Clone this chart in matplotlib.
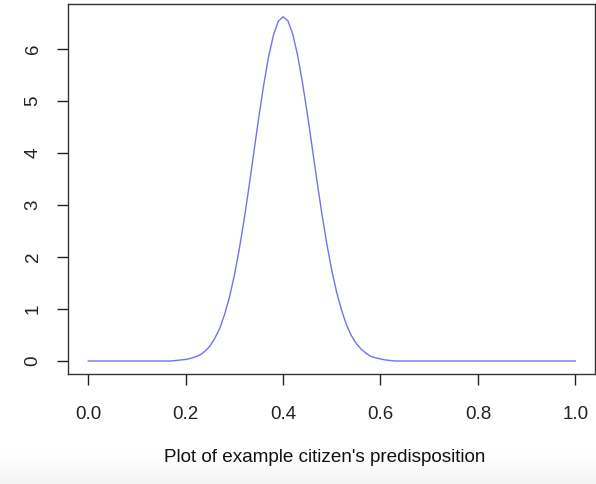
import numpy as np
import matplotlib.pyplot as plt

plt.rcParams['font.family'] = ['Liberation Sans', 'DejaVu Sans']

# predisposition grid and density
x_vals = [round(i * 0.01, 2) for i in range(101)]
density = [
    0.00, 0.00, 0.00, 0.00, 0.00, 0.00, 0.00, 0.00, 0.00, 0.00,
    0.00, 0.00, 0.00, 0.00, 0.00, 0.00, 0.00, 0.00, 0.01, 0.02,
    0.03, 0.05, 0.08, 0.12, 0.19, 0.29, 0.44, 0.63, 0.90, 1.23,
    1.65, 2.15, 2.72, 3.35, 4.02, 4.68, 5.30, 5.84, 6.26, 6.53,
    6.62, 6.54, 6.28, 5.87, 5.34, 4.74, 4.09, 3.43, 2.81, 2.24,
    1.74, 1.32, 0.98, 0.70, 0.49, 0.34, 0.23, 0.15, 0.09, 0.06,
    0.04, 0.02, 0.01, 0.00, 0.00, 0.00, 0.00, 0.00, 0.00, 0.00,
    0.00, 0.00, 0.00, 0.00, 0.00, 0.00, 0.00, 0.00, 0.00, 0.00,
    0.00, 0.00, 0.00, 0.00, 0.00, 0.00, 0.00, 0.00, 0.00, 0.00,
    0.00, 0.00, 0.00, 0.00, 0.00, 0.00, 0.00, 0.00, 0.00, 0.00,
    0.00,
]
x_ticks = [0.0, 0.2, 0.4, 0.6, 0.8, 1.0]
x_ticklabels = ['0.0', '0.2', '0.4', '0.6', '0.8', '1.0']
y_ticks = [0, 1, 2, 3, 4, 5, 6]

fig = plt.figure(figsize=(5.96, 4.84), dpi=100)

# faint grey shading at the bottom of the screenshot
bg = fig.add_axes([0, 0, 1, 1], zorder=-1)
grad = np.ones((484, 1))
grad[450:, 0] = np.linspace(1.0, 0.955, 34)
bg.imshow(grad, cmap='gray', vmin=0, vmax=1, aspect='auto',
          extent=[0, 1, 0, 1], origin='upper')
bg.axis('off')

ax = fig.add_axes([68 / 596, 1 - 374 / 484, 527 / 596, 370 / 484])
ax.patch.set_alpha(0)
ax.plot(x_vals, density, color='#7272ee', linewidth=1.0)

ax.set_xlim(-0.0417, 1.0405)
ax.set_ylim(-0.25, 6.865)
ax.set_xticks(x_ticks)
ax.set_xticklabels(x_ticklabels)
ax.set_yticks(y_ticks)
ax.set_yticklabels([str(v) for v in y_ticks], rotation=90, va='center')
ax.tick_params(axis='x', length=8, width=1.0, pad=15, labelsize=13.5, colors='#222222')
ax.tick_params(axis='y', length=8, width=1.0, pad=11, labelsize=13.5, colors='#222222')
for sp in ax.spines.values():
    sp.set_color('#333333')
    sp.set_linewidth(1.0)

fig.text(324.7 / 596, 1 - 458 / 484, "Plot of example citizen's predisposition",
         ha='center', va='center', fontsize=13.6, color='#111111')

fig.savefig('out.png', dpi=100)
